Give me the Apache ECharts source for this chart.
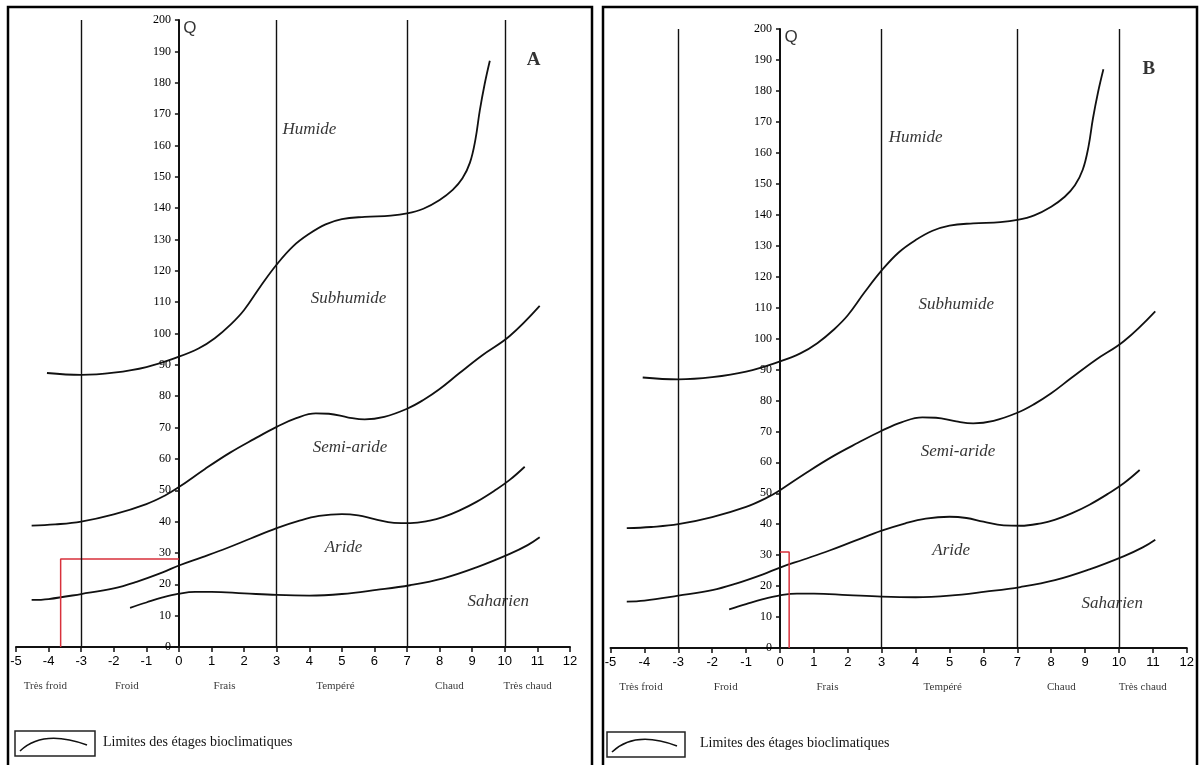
<!DOCTYPE html>
<html><head><meta charset="utf-8">
<script src="https://cdn.jsdelivr.net/npm/echarts@6/dist/echarts.min.js"></script>
<style>html,body{margin:0;padding:0;background:#fff}#c{width:1200px;height:765px}</style>
</head><body><div id="c"></div>
<script>
// ---- data (Emberger climagram: x = m, minimum temperature of coldest month (°C); y = Q2) ----
const xMin = -5, xMax = 12, xStep = 1;
const qMin = 0, qMax = 200, qStep = 10;

// bioclimatic stage limits [m, Q]
const limitHumide = [[-4.05,87.4],[-3,86.8],[-2,87.5],[-1,89.3],[0,92.6],[0.6,95.2],[1.1,98.5],[1.6,103],[2,107.5],[2.5,115],[3,122],[3.5,127.8],[4,131.8],[4.5,134.8],[5,136.5],[5.7,137.2],[6.5,137.6],[7,138.3],[7.5,139.8],[8,142.6],[8.4,145.8],[8.7,149.5],[8.93,154.5],[9.1,162],[9.23,171],[9.38,179.5],[9.54,187]];
const limitSubhumide = [[-4.52,38.7],[-3.8,39.1],[-3,40],[-2,42.3],[-1,45.6],[-0.4,48.5],[0,51],[0.8,56.8],[1.57,62],[2.3,66.3],[3,70.2],[3.6,73],[4.2,74.5],[4.6,74.4],[5.2,73.2],[5.7,72.6],[6.3,73.4],[7,76],[7.5,78.8],[8,82.3],[8.6,87.3],[9.3,93],[10.15,99.2],[11.07,108.8]];
const limitSemiAride = [[-4.52,15],[-4,15.3],[-3,16.9],[-2,18.7],[-1.3,20.8],[-0.5,23.8],[0,26],[0.7,28.6],[1.46,31.5],[2.2,34.6],[3,37.9],[3.7,40.3],[4.3,41.8],[5,42.4],[5.5,42],[6,40.8],[6.6,39.6],[7.1,39.5],[7.7,40.3],[8.1,41.4],[8.6,43.5],[9.13,46.3],[9.7,50],[10.15,53.3],[10.61,57.5]];
const limitAride = [[-1.5,12.5],[-1,14.2],[-0.5,15.8],[0,17],[0.5,17.6],[1,17.6],[2,17.1],[3,16.6],[4,16.4],[5,16.9],[6.06,18.2],[7.09,19.7],[8.11,21.9],[9.13,25.4],[10.15,29.7],[10.7,32.5],[11.07,35]];

// thermal variant boundaries and names
const thermalBounds = [-3, 3, 7, 10];
const thermalNames = ['Très froid','Froid','Frais','Tempéré','Chaud','Très chaud'];
const thermalNameX = [-4.1, -1.6, 1.4, 4.8, 8.3, 10.7];

// bioclimatic stage names
const zoneNames = ['Humide','Subhumide','Semi-aride','Aride','Saharien'];
const zoneLabelX = [4.0, 5.2, 5.25, 5.05, 9.8];
const zoneLabelQ = [165, 111, 63.5, 31.6, 14.4];

// station positions (panel A, panel B) [m, Q]
const panelLetters = ['A','B'];
const stations = [[-3.63, 28.1], [0.27, 31]];
const legendText = 'Limites des étages bioclimatiques';

// ---- layout ----
const grids = [
  {left: 16, top: 20, width: 554, height: 627},
  {left: 610.5, top: 29, width: 576.3, height: 619}
];
const panelFrames = [{x: 8, y: 7, w: 584}, {x: 603, y: 7, w: 594}];
const legendBoxes = [{x: 15, y: 731, w: 80, h: 25, tx: 103}, {x: 607, y: 732, w: 78, h: 25, tx: 700}];

const serif = "'Liberation Serif', 'DejaVu Serif', serif";
const narrow = "'Liberation Sans Narrow', 'Liberation Sans', Arial, sans-serif";

const chart = echarts.init(document.getElementById('c'), null, {renderer: 'canvas'});
const option = {
  animation: false,
  backgroundColor: '#fff',
  grid: grids.map(g => Object.assign({containLabel: false, outerBoundsMode: 'none'}, g)),
  xAxis: grids.map((g, i) => ({
    type: 'value', gridIndex: i, min: xMin, max: xMax, interval: xStep,
    axisLine: {show: true, onZero: false, lineStyle: {color: '#111', width: 2}},
    axisTick: {show: true, length: 5, lineStyle: {color: '#111', width: 1.5}},
    axisLabel: {color: '#000', fontFamily: narrow, fontSize: 13, margin: 8},
    splitLine: {show: false}
  })),
  yAxis: grids.map((g, i) => ({
    type: 'value', gridIndex: i, min: qMin, max: qMax, interval: qStep,
    position: 'left',
    offset: -g.width * (0 - xMin) / (xMax - xMin),
    axisLine: {show: true, onZero: false, lineStyle: {color: '#111', width: 2}},
    axisTick: {show: true, length: 4, lineStyle: {color: '#111', width: 1.5}},
    axisLabel: {color: '#000', fontFamily: serif, fontSize: 12, margin: 8},
    splitLine: {show: false}
  })),
  series: [],
  graphic: []
};

const limits = [limitHumide, limitSubhumide, limitSemiAride, limitAride];
grids.forEach((g, i) => {
  limits.forEach((d, k) => {
    const s = {
      type: 'line', xAxisIndex: i, yAxisIndex: i, data: d, smooth: 0.4,
      symbol: 'none', lineStyle: {color: '#111', width: 1.8}, silent: true, z: 3
    };
    if (k === 0) {
      s.markLine = {
        silent: true, symbol: ['none', 'none'], label: {show: false},
        lineStyle: {color: '#111', width: 1.4, type: 'solid'},
        data: thermalBounds.map(v => ({xAxis: v}))
      };
    }
    option.series.push(s);
  });
  // station marker (red)
  const st = stations[i];
  option.series.push({
    type: 'line', xAxisIndex: i, yAxisIndex: i, symbol: 'none', silent: true, z: 4,
    data: [[st[0], 0], [st[0], st[1]], [0, st[1]]],
    lineStyle: {color: '#d8313b', width: 1.5}
  });
  // zone names
  option.series.push({
    type: 'scatter', xAxisIndex: i, yAxisIndex: i, symbolSize: 0, silent: true, z: 5,
    data: zoneNames.map((n, k) => ({value: [zoneLabelX[k], zoneLabelQ[k]], name: n})),
    label: {show: true, position: 'inside', formatter: p => p.name, color: '#000',
      fontFamily: serif, fontStyle: 'italic', fontSize: 17}
  });
  // thermal variant names
  option.series.push({
    type: 'scatter', xAxisIndex: i, yAxisIndex: i, symbolSize: 0, silent: true, z: 5,
    data: thermalNames.map((n, k) => ({value: [thermalNameX[k], 0], name: n})),
    label: {show: true, position: 'inside', offset: [0, 39], formatter: p => p.name, color: '#000',
      fontFamily: serif, fontSize: 11}
  });
  // Q axis name and panel letter
  option.series.push({
    type: 'scatter', xAxisIndex: i, yAxisIndex: i, symbolSize: 0, silent: true, z: 5,
    data: [{value: [0, qMax], name: 'Q'}],
    label: {show: true, position: 'inside', offset: [11, 8], formatter: 'Q', color: '#000',
      fontFamily: "'Liberation Sans', Arial, sans-serif", fontSize: 17}
  });
  option.series.push({
    type: 'scatter', xAxisIndex: i, yAxisIndex: i, symbolSize: 0, silent: true, z: 5,
    data: [{value: [10.88, 187.2], name: panelLetters[i]}],
    label: {show: true, position: 'inside', formatter: p => p.name, color: '#000',
      fontFamily: serif, fontWeight: 'bold', fontSize: 19}
  });

  // frame and legend
  const f = panelFrames[i];
  option.graphic.push({type: 'rect', shape: {x: f.x, y: f.y, width: f.w, height: 800},
    style: {fill: 'none', stroke: '#000', lineWidth: 2.5}, silent: true});
  const lb = legendBoxes[i];
  option.graphic.push({type: 'rect', shape: {x: lb.x, y: lb.y, width: lb.w, height: lb.h},
    style: {fill: 'none', stroke: '#222', lineWidth: 1.5}, silent: true});
  option.graphic.push({type: 'bezierCurve', shape: {x1: lb.x + 5, y1: lb.y + 20, cpx1: lb.x + 28, cpy1: lb.y - 2, x2: lb.x + lb.w - 8, y2: lb.y + 14},
    style: {fill: 'none', stroke: '#111', lineWidth: 1.6}, silent: true});
  option.graphic.push({type: 'text', left: lb.tx, top: lb.y + 4,
    style: {text: legendText, fontFamily: serif, fontSize: 14, fill: '#111'}, silent: true});
});

chart.setOption(option);
</script>
</body></html>
